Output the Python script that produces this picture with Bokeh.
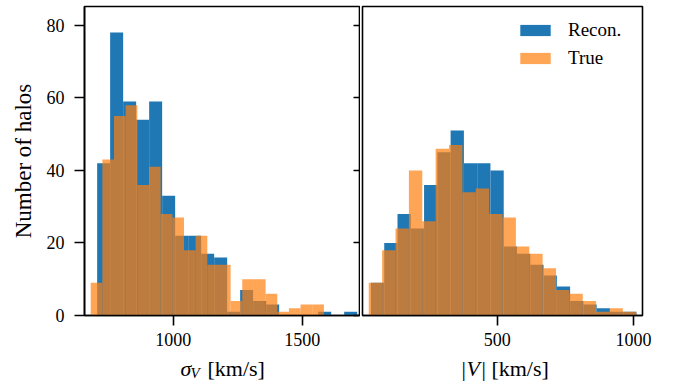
import numpy as np
from bokeh.plotting import figure
from bokeh.layouts import row, column
from bokeh.models import Range1d, FixedTicker, LinearAxis, Legend, LegendItem
from bokeh.core.properties import value
from bokeh.embed import file_html
from bokeh.resources import INLINE

# ---- data ----
sigma_recon_counts = [42, 78, 59, 54, 59, 33, 22, 22, 17, 16, 1, 7, 4, 3, 0, 0, 0, 1, 0, 1]
sigma_recon_range = (705, 1713)
sigma_true_counts = [9, 43, 55, 58, 36, 41, 28, 27, 18, 22, 14, 14, 4, 10, 10, 6, 1, 2, 3, 3]
sigma_true_range = (680, 1584)

vel_recon_counts = [9, 20, 28, 24, 36, 45, 51, 42, 42, 40, 19, 17, 14, 11, 8, 4, 3, 2, 1, 1]
vel_recon_range = (37, 1011)
vel_true_counts = [9, 18, 24, 40, 26, 46, 47, 34, 35, 28, 27, 19, 17, 13, 7, 6, 4, 1, 2, 1]
vel_true_range = (29, 1010)

y_ticks = [0, 20, 40, 60, 80]
sigma_ticks = [1000, 1500]
vel_ticks = [500, 1000]
series_labels = ["Recon.", "True"]

BLUE = "#1f77b4"
ORANGE = "#ff7f0e"
FONT = "Liberation Serif"


def edges(rng, counts):
    return np.linspace(rng[0], rng[1], len(counts) + 1)


y_range = Range1d(0, 85.2)


def style(p, xticks):
    p.outline_line_color = "black"
    p.outline_line_width = 1.6
    p.xgrid.visible = False
    p.ygrid.visible = False
    p.background_fill_color = "white"
    p.border_fill_color = "white"
    ax = p.xaxis[0]
    ax.ticker = FixedTicker(ticks=xticks)
    ax.minor_tick_line_color = None
    ax.major_tick_out = 10
    ax.major_tick_in = 0
    ax.major_tick_line_width = 1.6
    ax.major_tick_line_color = "black"
    ax.axis_line_width = 1.6
    ax.axis_line_color = "black"
    ax.major_label_standoff = 7
    ax.major_label_text_font = FONT
    ax.major_label_text_font_size = "18px"
    ax.major_label_text_color = "black"


PH = 355  # height of the two panels; the axis-title strip sits below

# ---- left panel ----
p1 = figure(width=360, height=PH, x_range=Range1d(656, 1722), y_range=y_range,
            output_backend="svg", toolbar_location=None,
            min_border_left=84, min_border_right=1, min_border_top=6, min_border_bottom=PH - 315)
style(p1, sigma_ticks)
ya = p1.yaxis[0]
ya.ticker = FixedTicker(ticks=y_ticks)
ya.minor_tick_line_color = None
ya.major_tick_out = 10
ya.major_tick_in = 0
ya.major_tick_line_width = 1.6
ya.major_tick_line_color = "black"
ya.axis_line_width = 1.6
ya.axis_line_color = "black"
ya.major_label_standoff = 10
ya.major_label_text_font = FONT
ya.major_label_text_font_size = "18px"
ya.major_label_text_color = "black"
ya.axis_label = "Number of halos"
ya.axis_label_text_font = FONT
ya.axis_label_text_font_size = "23px"
ya.axis_label_text_font_style = "normal"
ya.axis_label_text_color = "black"
ya.axis_label_standoff = 8

ra = LinearAxis(ticker=FixedTicker(ticks=y_ticks), major_tick_in=6, major_tick_out=0,
                major_tick_line_width=1.6, major_tick_line_color="black",
                minor_tick_line_color=None,
                major_label_standoff=0, major_label_text_font_size="0px",
                major_label_overrides={t: "" for t in y_ticks}, axis_line_color=None)
p1.add_layout(ra, "right")

e = edges(sigma_recon_range, sigma_recon_counts)
p1.quad(left=e[:-1], right=e[1:], bottom=0, top=sigma_recon_counts,
        fill_color=BLUE, line_color=None)
e = edges(sigma_true_range, sigma_true_counts)
p1.quad(left=e[:-1], right=e[1:], bottom=0, top=sigma_true_counts,
        fill_color=ORANGE, fill_alpha=0.7, line_color=None)

# ---- right panel ----
p2 = figure(width=318, height=PH, x_range=Range1d(6, 1033), y_range=y_range,
            output_backend="svg", toolbar_location=None, y_axis_location=None,
            min_border_left=2, min_border_right=36, min_border_top=6, min_border_bottom=PH - 315)
style(p2, vel_ticks)

e = edges(vel_recon_range, vel_recon_counts)
r_blue = p2.quad(left=e[:-1], right=e[1:], bottom=0, top=vel_recon_counts,
                 fill_color=BLUE, line_color=None)
e = edges(vel_true_range, vel_true_counts)
r_orange = p2.quad(left=e[:-1], right=e[1:], bottom=0, top=vel_true_counts,
                   fill_color=ORANGE, fill_alpha=0.7, line_color=None)

legend = Legend(items=[LegendItem(label=series_labels[0], renderers=[r_blue]),
                       LegendItem(label=series_labels[1], renderers=[r_orange])],
                location=(154, 246), padding=0, margin=0, spacing=6,
                glyph_width=38, glyph_height=14, label_standoff=14, label_height=14,
                label_text_font=FONT, label_text_font_size="19px", label_text_color="black",
                border_line_alpha=0, background_fill_alpha=0)
p2.add_layout(legend, "center")

# ---- strip with the x-axis titles (real text, mixed italic / upright) ----
SH = 382 - PH
pl = figure(width=678, height=SH, x_range=Range1d(0, 678), y_range=Range1d(0, SH),
            output_backend="svg", toolbar_location=None, title=None,
            x_axis_location=None, y_axis_location=None,
            min_border_left=0, min_border_right=0, min_border_top=0, min_border_bottom=0)
pl.outline_line_color = None
pl.grid.visible = False
pl.border_fill_color = "white"
pl.background_fill_color = "white"


def title_piece(x, y, txt, size, style_):
    pl.text(x=[x], y=[y], text=[txt], text_font=value(FONT), text_font_size=value(size),
            text_font_style=value(style_), text_align="left", text_baseline="alphabetic",
            text_color="black")


base = 14
title_piece(180, base, "σ", "22px", "italic")
title_piece(190, base - 4, "V", "15px", "italic")
title_piece(207, base, "[km/s]", "22px", "normal")
title_piece(461, base, "|", "22px", "normal")
title_piece(466, base, "V", "22px", "italic")
title_piece(481, base, "| [km/s]", "22px", "normal")

layout = column(row(p1, p2, spacing=0), pl, spacing=0)
open("out.html", "w").write(file_html(layout, INLINE))
